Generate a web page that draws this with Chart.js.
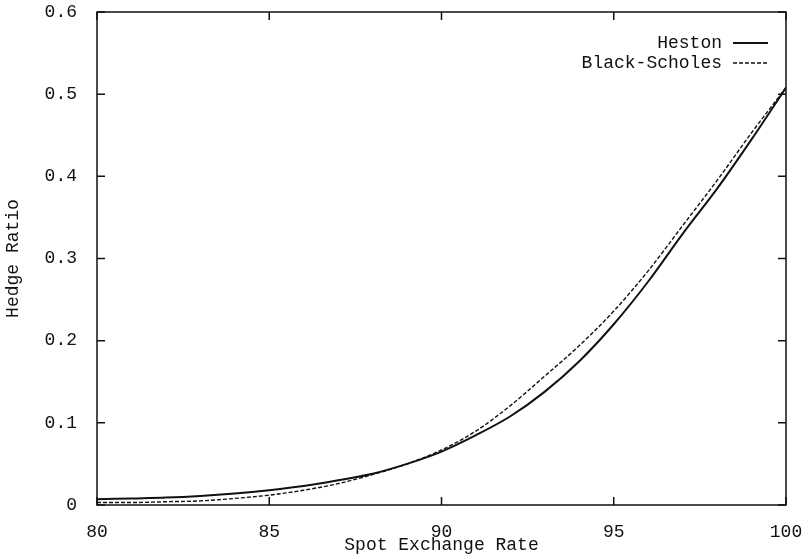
<!DOCTYPE html>
<html>
<head>
<meta charset="utf-8">
<script src="https://cdn.jsdelivr.net/npm/chart.js@4/dist/chart.umd.min.js"></script>
<style>
  html, body { margin: 0; padding: 0; background: #fff; }
  #wrap { width: 810px; height: 559px; }
</style>
</head>
<body>
<div id="wrap"><canvas id="c"></canvas></div>
<script>
// spot exchange rate and hedge ratios
var spot = [80, 81, 82, 83, 84, 85, 86, 87, 88, 89, 90, 91, 92, 93, 94, 95, 96, 97, 98, 99, 100];
var heston = [0.007, 0.008, 0.009, 0.011, 0.014, 0.018, 0.023, 0.030, 0.038, 0.050, 0.065,
              0.085, 0.108, 0.138, 0.175, 0.220, 0.272, 0.330, 0.385, 0.445, 0.508];
var blackScholes = [0.003, 0.003, 0.004, 0.005, 0.008, 0.012, 0.018, 0.026, 0.037, 0.050, 0.067,
                    0.090, 0.121, 0.157, 0.194, 0.236, 0.285, 0.340, 0.395, 0.453, 0.508];
var xTicks = [80, 85, 90, 95, 100];
var yTicks = [0, 0.1, 0.2, 0.3, 0.4, 0.5, 0.6];

var FONT = "'Liberation Mono', 'DejaVu Sans Mono', monospace";
var INK = '#111';

function points(ys) {
	var out = [];
	for (var i = 0; i < spot.length; i++) out.push({x: spot[i], y: ys[i]});
	return out;
}

// frame, inward ticks on all four sides, and the gnuplot-like key
var framePlugin = {
	id: 'frame',
	afterDraw: function (chart) {
		var ctx = chart.ctx, a = chart.chartArea;
		var xs = chart.scales.x, ys = chart.scales.y;
		var tl = 8;
		ctx.save();
		ctx.strokeStyle = INK;
		ctx.lineWidth = 1.5;
		ctx.strokeRect(a.left, a.top, a.right - a.left, a.bottom - a.top);
		ctx.beginPath();
		xTicks.forEach(function (v) {
			var px = xs.getPixelForValue(v);
			ctx.moveTo(px, a.bottom); ctx.lineTo(px, a.bottom - tl);
			ctx.moveTo(px, a.top); ctx.lineTo(px, a.top + tl);
		});
		yTicks.forEach(function (v) {
			var py = ys.getPixelForValue(v);
			ctx.moveTo(a.left, py); ctx.lineTo(a.left + tl, py);
			ctx.moveTo(a.right, py); ctx.lineTo(a.right - tl, py);
		});
		ctx.stroke();

		// key
		ctx.font = '18px ' + FONT;
		ctx.fillStyle = INK;
		ctx.textAlign = 'right';
		ctx.textBaseline = 'middle';
		chart.data.datasets.forEach(function (ds, i) {
			var y = 43 + i * 20;
			ctx.fillText(ds.label, 722, y);
			ctx.beginPath();
			ctx.lineWidth = ds.borderWidth;
			ctx.setLineDash(ds.borderDash || []);
			ctx.moveTo(733, y); ctx.lineTo(768, y);
			ctx.stroke();
		});
		ctx.restore();
	}
};

var ctx = document.getElementById('c').getContext('2d');
var chart = new Chart(ctx, {
	type: 'line',
	data: {
		datasets: [
			{
				label: 'Heston',
				data: points(heston),
				borderColor: INK,
				borderWidth: 2,
				pointRadius: 0,
				cubicInterpolationMode: 'monotone',
				fill: false
			},
			{
				label: 'Black-Scholes',
				data: points(blackScholes),
				borderColor: INK,
				borderWidth: 1.4,
				borderDash: [4, 2],
				pointRadius: 0,
				cubicInterpolationMode: 'monotone',
				fill: false
			}
		]
	},
	options: {
		responsive: true,
		maintainAspectRatio: false,
		animation: false,
		layout: { padding: { top: 12, right: 24, left: 0, bottom: 0 } },
		plugins: {
			legend: { display: false },
			tooltip: { enabled: false }
		},
		scales: {
			x: {
				type: 'linear',
				min: 80, max: 100,
				afterBuildTicks: function (s) { s.ticks = xTicks.map(function (v) { return {value: v}; }); },
				afterFit: function (s) { s.height = 54; s.paddingLeft = 0; s.paddingRight = 0; },
				grid: { display: false },
				border: { display: false },
				ticks: { color: INK, font: { family: FONT, size: 18 }, padding: 8, maxRotation: 0 },
				title: { display: true, text: 'Spot Exchange Rate', color: INK,
				         font: { family: FONT, size: 18 }, padding: { top: 0, bottom: 3 } }
			},
			y: {
				min: 0, max: 0.6,
				afterBuildTicks: function (s) { s.ticks = yTicks.map(function (v) { return {value: v}; }); },
				afterFit: function (s) { s.width = 97; s.paddingTop = 0; s.paddingBottom = 0; },
				grid: { display: false },
				border: { display: false },
				ticks: {
					color: INK, font: { family: FONT, size: 18 }, padding: 12,
					callback: function (v) { return v === 0 ? '0' : v.toFixed(1); }
				},
				title: { display: true, text: 'Hedge Ratio', color: INK,
				         font: { family: FONT, size: 18 }, padding: { top: 2, bottom: 0 } }
			}
		}
	},
	plugins: [framePlugin]
});
</script>
</body>
</html>
